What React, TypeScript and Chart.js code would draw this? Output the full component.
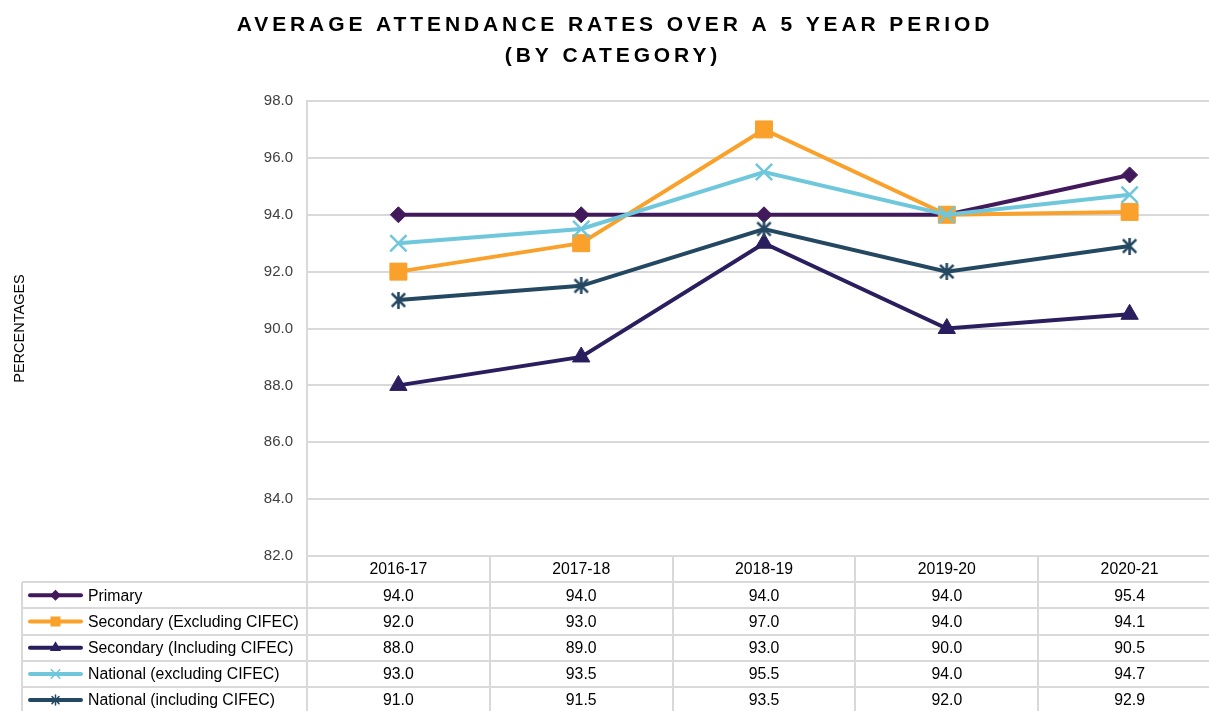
import React, { useEffect, useRef } from 'react';
import { Chart, registerables } from 'chart.js';
import { drawPoint } from 'chart.js/helpers';

Chart.register(...registerables);

const categories = ['2016-17', '2017-18', '2018-19', '2019-20', '2020-21'];
const primary = [94.0, 94.0, 94.0, 94.0, 95.4];
const secondaryExcl = [92.0, 93.0, 97.0, 94.0, 94.1];
const secondaryIncl = [88.0, 89.0, 93.0, 90.0, 90.5];
const nationalExcl = [93.0, 93.5, 95.5, 94.0, 94.7];
const nationalIncl = [91.0, 91.5, 93.5, 92.0, 92.9];
const seriesNames = [
  'Primary',
  'Secondary (Excluding CIFEC)',
  'Secondary (Including CIFEC)',
  'National (excluding CIFEC)',
  'National (including CIFEC)',
];
const yMin = 82;
const yMax = 98;
const yStep = 2;
const titleLines = ['AVERAGE ATTENDANCE RATES OVER A 5 YEAR PERIOD', '(BY CATEGORY)'];
const yAxisTitle = 'PERCENTAGES';

const seriesValues = [primary, secondaryExcl, secondaryIncl, nationalExcl, nationalIncl];
const seriesColors = ['#42195b', '#f9a12b', '#2b1e5e', '#6fc7db', '#254862'];
const seriesPointRadius = [8, 12, 10, 11.5, 9];
const legendPointRadius = [4.5, 6, 5, 6, 5];

const W = 1222;
const H = 711;
const GRID = '#d9d9d9';
const BODY_FONT = '"Liberation Sans", Arial, sans-serif';

function makeAsterisk(color: string, size: number, lw: number): HTMLCanvasElement {
  const c = document.createElement('canvas');
  c.width = size;
  c.height = size;
  const g = c.getContext('2d')!;
  const m = lw / 2 + 0.5;
  g.strokeStyle = color;
  g.lineWidth = lw;
  g.lineCap = 'butt';
  g.beginPath();
  g.moveTo(m, m);
  g.lineTo(size - m, size - m);
  g.moveTo(size - m, m);
  g.lineTo(m, size - m);
  g.moveTo(size / 2, 0);
  g.lineTo(size / 2, size);
  g.stroke();
  return c;
}

const titlePlugin = {
  id: 'customTitle',
  afterDraw(chart: any) {
    const ctx = chart.ctx as CanvasRenderingContext2D;
    ctx.save();
    ctx.fillStyle = '#000000';
    ctx.font = `bold 21px ${BODY_FONT}`;
    (ctx as any).letterSpacing = '3.9px';
    ctx.textAlign = 'center';
    ctx.textBaseline = 'middle';
    ctx.fillText(titleLines[0], 615, 25);
    ctx.fillText(titleLines[1], 613, 56);
    ctx.restore();
  },
};

function makeTablePlugin(pointStyles: any[], legendStyles: any[]) {
  return {
    id: 'dataTable',
    afterDraw(chart: any) {
      const ctx = chart.ctx as CanvasRenderingContext2D;
      const area = chart.chartArea;
      const x = chart.scales.x;
      const top = area.bottom;
      const rowH = 26.2;
      const left = 22;
      const axisX = area.left;
      const right = area.right;
      const n = categories.length;
      const centers = categories.map((_, i) => x.getPixelForValue(i));
      const bounds: number[] = [];
      for (let i = 0; i < n - 1; i++) bounds.push((centers[i] + centers[i + 1]) / 2);
      const bottom = top + rowH * (seriesNames.length + 1) + 4;

      ctx.save();
      ctx.strokeStyle = GRID;
      ctx.lineWidth = 2;
      ctx.beginPath();
      for (let r = 1; r <= seriesNames.length; r++) {
        const y = Math.round(top + rowH * r);
        ctx.moveTo(left, y);
        ctx.lineTo(right, y);
      }
      ctx.moveTo(left, top + rowH);
      ctx.lineTo(left, bottom);
      ctx.moveTo(axisX, top);
      ctx.lineTo(axisX, bottom);
      bounds.forEach((b) => {
        ctx.moveTo(Math.round(b), top);
        ctx.lineTo(Math.round(b), bottom);
      });
      ctx.stroke();

      ctx.fillStyle = '#000000';
      ctx.font = `15.8px ${BODY_FONT}`;
      ctx.textBaseline = 'middle';
      ctx.textAlign = 'center';
      categories.forEach((c, i) => ctx.fillText(c, centers[i], top + rowH / 2 + 1));

      seriesNames.forEach((name, s) => {
        const yc = top + rowH * (s + 1.5) + 1;
        ctx.textAlign = 'center';
        ctx.fillStyle = '#000000';
        seriesValues[s].forEach((v, i) => ctx.fillText(v.toFixed(1), centers[i], yc));
        ctx.textAlign = 'left';
        ctx.fillText(name, 88, yc);
        ctx.strokeStyle = seriesColors[s];
        ctx.lineWidth = 4;
        ctx.lineCap = 'round';
        ctx.beginPath();
        ctx.moveTo(30, yc - 1);
        ctx.lineTo(81, yc - 1);
        ctx.stroke();
        ctx.fillStyle = seriesColors[s];
        ctx.lineWidth = 1.5;
        drawPoint(ctx, { pointStyle: legendStyles[s], radius: legendPointRadius[s], rotation: 0, borderWidth: 1.5 }, 55.5, yc - 1);
      });
      ctx.restore();
    },
  };
}

export default function App() {
  const ref = useRef<HTMLCanvasElement | null>(null);

  useEffect(() => {
    if (!ref.current) return;
    const asterisk = makeAsterisk(seriesColors[4], 17, 2.6);
    const pointStyles: any[] = ['rectRot', 'rect', 'triangle', 'crossRot', asterisk];
    const legendStyles: any[] = ['rectRot', 'rect', 'triangle', 'crossRot', 'star'];
    const chart = new Chart(ref.current, {
      type: 'line',
      data: {
        labels: categories,
        datasets: seriesNames.map((name, i) => ({
          label: name,
          data: seriesValues[i],
          borderColor: seriesColors[i],
          backgroundColor: seriesColors[i],
          borderWidth: 4,
          pointStyle: pointStyles[i],
          pointRadius: seriesPointRadius[i],
          pointHoverRadius: seriesPointRadius[i],
          pointBorderWidth: i >= 3 ? 2.5 : 1,
          pointBorderColor: seriesColors[i],
          pointBackgroundColor: seriesColors[i],
          tension: 0,
          order: seriesNames.length - i,
          clip: false as any,
        })),
      },
      options: {
        responsive: true,
        maintainAspectRatio: false,
        animation: false,
        devicePixelRatio: 1,
        layout: { autoPadding: false, padding: { top: 101, bottom: H - 556, left: 0, right: 1 } },
        plugins: {
          legend: { display: false },
          title: { display: false },
          tooltip: { enabled: false },
        },
        scales: {
          x: {
            type: 'category',
            offset: true,
            display: false,
          },
          y: {
            min: yMin,
            max: yMax,
            afterFit: (scale: any) => {
              scale.width = 307;
            },
            ticks: {
              stepSize: yStep,
              padding: 14,
              color: '#404040',
              font: { family: BODY_FONT, size: 15 },
              callback: (v: any) => Number(v).toFixed(1),
            },
            grid: { color: GRID, lineWidth: 2, drawTicks: false },
            border: { color: GRID, width: 2 },
            title: {
              display: true,
              text: yAxisTitle,
              color: '#000000',
              font: { family: BODY_FONT, size: 14.5 },
              padding: { top: 11, bottom: 0 },
            },
          },
        },
      },
      plugins: [titlePlugin, makeTablePlugin(pointStyles, legendStyles)],
    });
    return () => chart.destroy();
  }, []);

  return (
    <div
      style={{
        position: 'fixed',
        left: 0,
        top: 0,
        width: 1209,
        height: 711,
        overflow: 'hidden',
        background: '#ffffff',
      }}
    >
      <div style={{ position: 'absolute', left: 0, top: 0, width: W, height: H, minWidth: W, maxWidth: W }}>
        <canvas ref={ref} />
      </div>
    </div>
  );
}
